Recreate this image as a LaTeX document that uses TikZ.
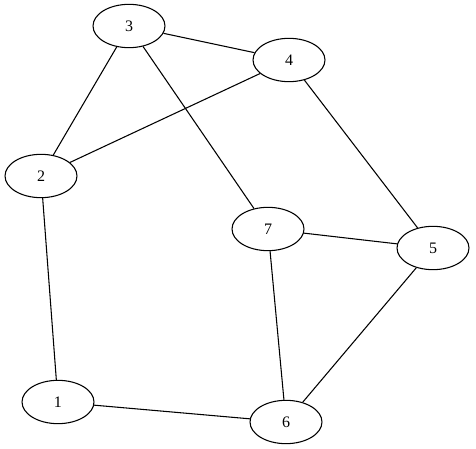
\documentclass[tikz,border=0pt]{standalone}
\usepackage{fontspec}
\setmainfont{Liberation Serif}
\usetikzlibrary{shapes.geometric}

\begin{document}
\begin{tikzpicture}[x=0.75pt,y=-0.75pt,
    vertex/.style={draw,ellipse,minimum width=54pt,minimum height=32.5pt,inner sep=0pt,line width=0.8pt,font=\fontsize{12}{14}\selectfont},
    edge/.style={draw,line width=0.8pt}]
  \useasboundingbox (0,0) rectangle (476,449);
  \node[vertex] (n3) at (129,26) {3};
  \node[vertex] (n4) at (289,60) {4};
  \node[vertex] (n2) at (41,176) {2};
  \node[vertex] (n7) at (268,229) {7};
  \node[vertex] (n5) at (433,248) {5};
  \node[vertex] (n1) at (58,402) {1};
  \node[vertex] (n6) at (286,422) {6};
  \draw[edge] (n3) -- (n4);
  \draw[edge] (n3) -- (n2);
  \draw[edge] (n3) -- (n7);
  \draw[edge] (n4) -- (n2);
  \draw[edge] (n4) -- (n5);
  \draw[edge] (n2) -- (n1);
  \draw[edge] (n7) -- (n5);
  \draw[edge] (n7) -- (n6);
  \draw[edge] (n5) -- (n6);
  \draw[edge] (n1) -- (n6);
\end{tikzpicture}
\end{document}
